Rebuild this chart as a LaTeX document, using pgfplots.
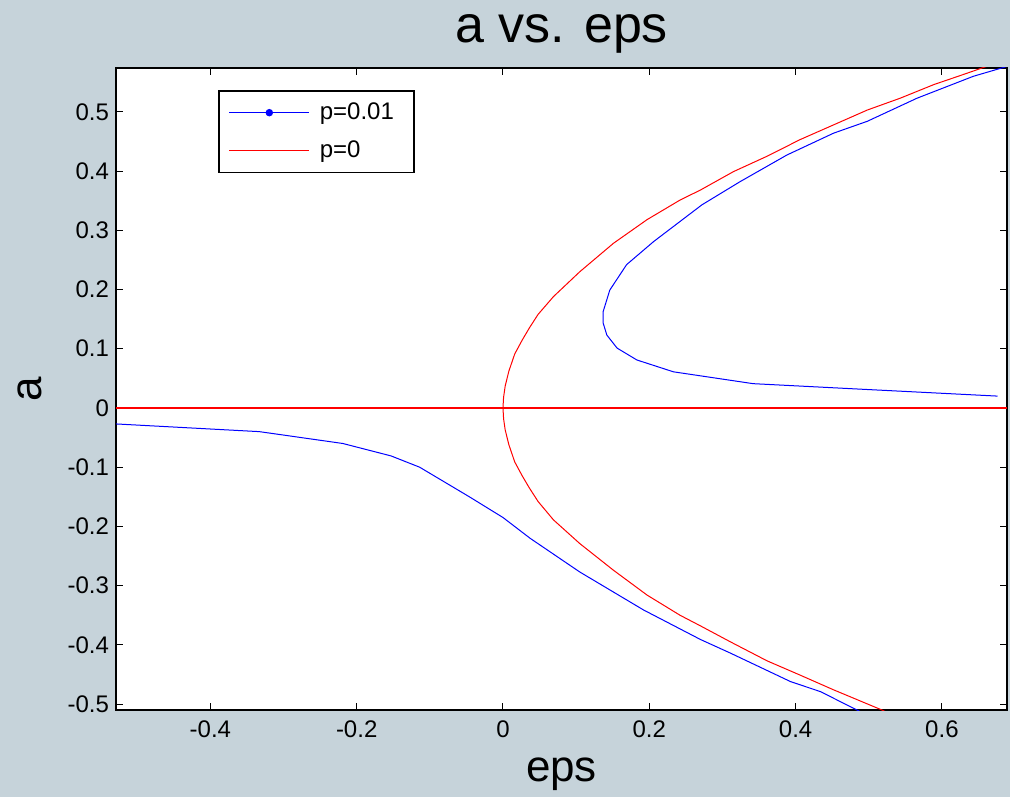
\documentclass[border=0pt]{standalone}
\usepackage{fontspec}
\setmainfont{Liberation Sans}
\usepackage{pgfplots}
\pgfplotsset{compat=1.18}
\definecolor{figbg}{RGB}{198,211,218}

\begin{document}
\begin{tikzpicture}
\useasboundingbox (-58pt,-43.5pt) rectangle (447pt,355pt);
\fill[figbg] (-58pt,-43.5pt) rectangle (447pt,355pt);
\begin{axis}[
  scale only axis,
  width=445.5pt, height=321pt,
  xmin=-0.529, xmax=0.689,
  ymin=-0.510, ymax=0.574,
  axis background/.style={fill=white},
  axis line style={line width=0.8pt, black},
  xtick={-0.4,-0.2,0,0.2,0.4,0.6},
  ytick={-0.5,-0.4,-0.3,-0.2,-0.1,0,0.1,0.2,0.3,0.4,0.5},
  tick align=inside,
  major tick length=3.5pt,
  tick style={line width=0.5pt, black},
  /pgf/number format/assume math mode=true,
  /pgf/number format/fixed,
  ticklabel style={font=\fontsize{12}{14}\selectfont},
  xticklabel style={yshift=-2pt},
  title={a vs. eps},
  title style={font=\fontsize{26}{30}\selectfont, at={(axis description cs:0.5,1)}, anchor=center, yshift=11pt},
  xlabel={eps},
  xlabel style={font=\fontsize{22}{26}\selectfont, at={(axis description cs:0.5,-0.1)}, anchor=center},
  ylabel={a},
  ylabel style={font=\fontsize{22}{26}\selectfont, at={(axis description cs:-0.0965,0.5)}, anchor=center},
  legend style={at={(axis description cs:0.1145,0.9657)}, anchor=north west,
    draw=black, line width=0.8pt, fill=white,
    font=\fontsize{12}{14}\selectfont,
    inner xsep=5pt, inner ysep=4pt, row sep=5pt,
    nodes={inner xsep=5pt}},
  legend cell align=left,
]
\addplot[blue, line width=0.5pt,
  legend image code/.code={\draw[blue, line width=0.5pt] (0pt,0pt) -- (40pt,0pt); \fill[blue] (20pt,0pt) circle (1.6pt);}]
  coordinates {
  (-0.529,-0.027) (-0.333,-0.040) (-0.219,-0.060) (-0.153,-0.081) (-0.114,-0.100)
  (-0.046,-0.150) (0.000,-0.185) (0.037,-0.220) (0.105,-0.277) (0.192,-0.341)
  (0.270,-0.391) (0.311,-0.414) (0.393,-0.462) (0.434,-0.479) (0.492,-0.515)
  };
\addlegendentry{p=0.01}
\addplot[red, line width=0.5pt,
  legend image code/.code={\draw[red, line width=0.5pt] (0pt,0pt) -- (40pt,0pt);}]
  coordinates {
  (0.525,-0.514) (0.518,-0.510) (0.452,-0.476) (0.406,-0.451) (0.361,-0.427)
  (0.311,-0.395) (0.270,-0.368) (0.242,-0.350) (0.197,-0.316) (0.151,-0.274)
  (0.105,-0.229) (0.069,-0.189) (0.048,-0.158) (0.036,-0.135) (0.026,-0.114)
  (0.016,-0.091) (0.008,-0.062) (0.003,-0.037) (0.0008,-0.018) (0.000,0.000)
  (0.0008,0.018) (0.003,0.037) (0.008,0.062) (0.016,0.091) (0.026,0.114)
  (0.036,0.135) (0.048,0.158) (0.069,0.188) (0.105,0.230) (0.151,0.278) (0.197,0.318)
  (0.242,0.351) (0.270,0.368) (0.315,0.399) (0.361,0.425) (0.406,0.453)
  (0.452,0.478) (0.498,0.503) (0.543,0.523) (0.589,0.546) (0.634,0.565)
  (0.657,0.575) (0.665,0.578)
  };
\addlegendentry{p=0}
\addplot[blue, line width=0.5pt, forget plot] coordinates {
  (0.690,0.577) (0.643,0.560) (0.566,0.523) (0.498,0.484) (0.452,0.464)
  (0.388,0.427) (0.324,0.382) (0.272,0.343) (0.206,0.281) (0.169,0.242)
  (0.146,0.199) (0.137,0.163) (0.137,0.143) (0.142,0.123) (0.156,0.101)
  (0.183,0.081) (0.233,0.061) (0.342,0.041) (0.500,0.031) (0.676,0.020)
  };
\addplot[red, line width=0.6pt, forget plot] coordinates {(-0.529,0) (0.689,0)};
\end{axis}
\end{tikzpicture}
\end{document}
